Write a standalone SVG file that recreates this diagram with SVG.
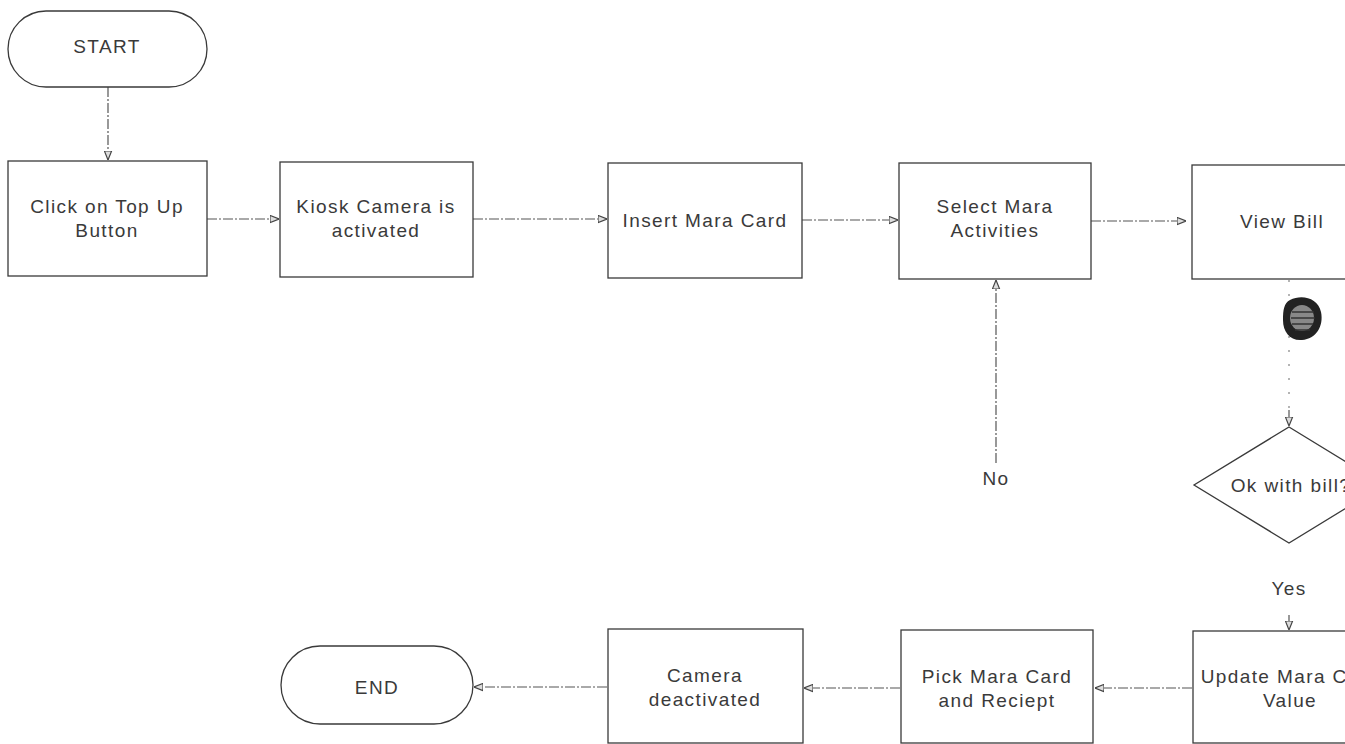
<svg xmlns="http://www.w3.org/2000/svg" width="1345" height="744" viewBox="0 0 1345 744">
<style>
.shape{fill:#fff;stroke:#3a3a3a;stroke-width:1.3}
.lbl{font-family:"Liberation Sans",Arial,sans-serif;font-size:19px;letter-spacing:1.4px;fill:#3a3a3a;text-anchor:middle}
.conn{fill:none;stroke:#555;stroke-width:1.2;stroke-dasharray:10 2 2 2}
.faint{fill:none;stroke:#777;stroke-width:1.1;stroke-dasharray:2 12}
</style>
<defs>
<marker id="ah" viewBox="0 0 10 10" refX="10" refY="5" markerWidth="9" markerHeight="9" markerUnits="userSpaceOnUse" orient="auto">
<path d="M0,1 L10,5 L0,9 z" fill="#ddd" stroke="#444" stroke-width="1.3"/>
</marker>
</defs>
<rect width="1345" height="744" fill="#fff"/>
<g id="connectors">
<line class="conn" x1="108" y1="87" x2="108" y2="160" marker-end="url(#ah)"/>
<line class="conn" x1="207" y1="219" x2="279" y2="219" marker-end="url(#ah)"/>
<line class="conn" x1="473" y1="219" x2="607" y2="219" marker-end="url(#ah)"/>
<line class="conn" x1="802" y1="220" x2="898" y2="220" marker-end="url(#ah)"/>
<line class="conn" x1="1091" y1="221" x2="1186" y2="221" marker-end="url(#ah)"/>
<line class="faint" x1="1289" y1="280" x2="1289" y2="412"/>
<line class="conn" x1="1289" y1="410" x2="1289" y2="426" marker-end="url(#ah)"/>
<line class="conn" x1="996" y1="463" x2="996" y2="280" marker-end="url(#ah)"/>
<line class="conn" x1="1289" y1="615" x2="1289" y2="630" marker-end="url(#ah)"/>
<line class="conn" x1="1192" y1="688" x2="1095" y2="688" marker-end="url(#ah)"/>
<line class="conn" x1="900" y1="688" x2="804" y2="688" marker-end="url(#ah)"/>
<line class="conn" x1="607" y1="687" x2="474" y2="687" marker-end="url(#ah)"/>
<text class="lbl" x="996" y="485">No</text>
<text class="lbl" x="1289" y="595">Yes</text>
</g>
<g id="blob">
<path d="M1290,300 C1302,294 1318,298 1321,312 C1324,326 1316,339 1302,340 C1290,341 1283,332 1283,320 C1283,310 1284,303 1290,300 z" fill="#222"/>
<ellipse cx="1302" cy="318" rx="12" ry="13" fill="#888"/>
<path d="M1292,312 H1314 M1291,318 H1315 M1292,324 H1313 M1295,330 H1310" stroke="#333" stroke-width="1.5"/>
</g>
<g id="start"><rect class="shape" x="8" y="11" width="199" height="76" rx="38"/><text class="lbl" x="107" y="53">START</text></g>
<g id="click-top-up"><rect class="shape" x="8" y="161" width="199" height="115"/><text class="lbl" x="107" y="213">Click on Top Up</text><text class="lbl" x="107" y="237">Button</text></g>
<g id="kiosk-camera"><rect class="shape" x="280" y="162" width="193" height="115"/><text class="lbl" x="376" y="213">Kiosk Camera is</text><text class="lbl" x="376" y="237">activated</text></g>
<g id="insert-card"><rect class="shape" x="608" y="163" width="194" height="115"/><text class="lbl" x="705" y="227">Insert Mara Card</text></g>
<g id="select-activities"><rect class="shape" x="899" y="163" width="192" height="116"/><text class="lbl" x="995" y="213">Select Mara</text><text class="lbl" x="995" y="237">Activities</text></g>
<g id="view-bill"><rect class="shape" x="1192" y="165" width="200" height="114"/><text class="lbl" x="1282" y="228">View Bill</text></g>
<g id="ok-with-bill"><polygon class="shape" points="1289,427 1384,485 1289,543 1194,485"/><text class="lbl" x="1291" y="492">Ok with bill?</text></g>
<g id="update-card"><rect class="shape" x="1193" y="631" width="200" height="112"/><text class="lbl" x="1290" y="683">Update Mara Card</text><text class="lbl" x="1290" y="707">Value</text></g>
<g id="pick-card"><rect class="shape" x="901" y="630" width="192" height="113"/><text class="lbl" x="997" y="683">Pick Mara Card</text><text class="lbl" x="997" y="707">and Reciept</text></g>
<g id="camera-deactivated"><rect class="shape" x="608" y="629" width="195" height="114"/><text class="lbl" x="705" y="682">Camera</text><text class="lbl" x="705" y="706">deactivated</text></g>
<g id="end"><rect class="shape" x="281" y="646" width="192" height="78" rx="39"/><text class="lbl" x="377" y="694">END</text></g>
</svg>
